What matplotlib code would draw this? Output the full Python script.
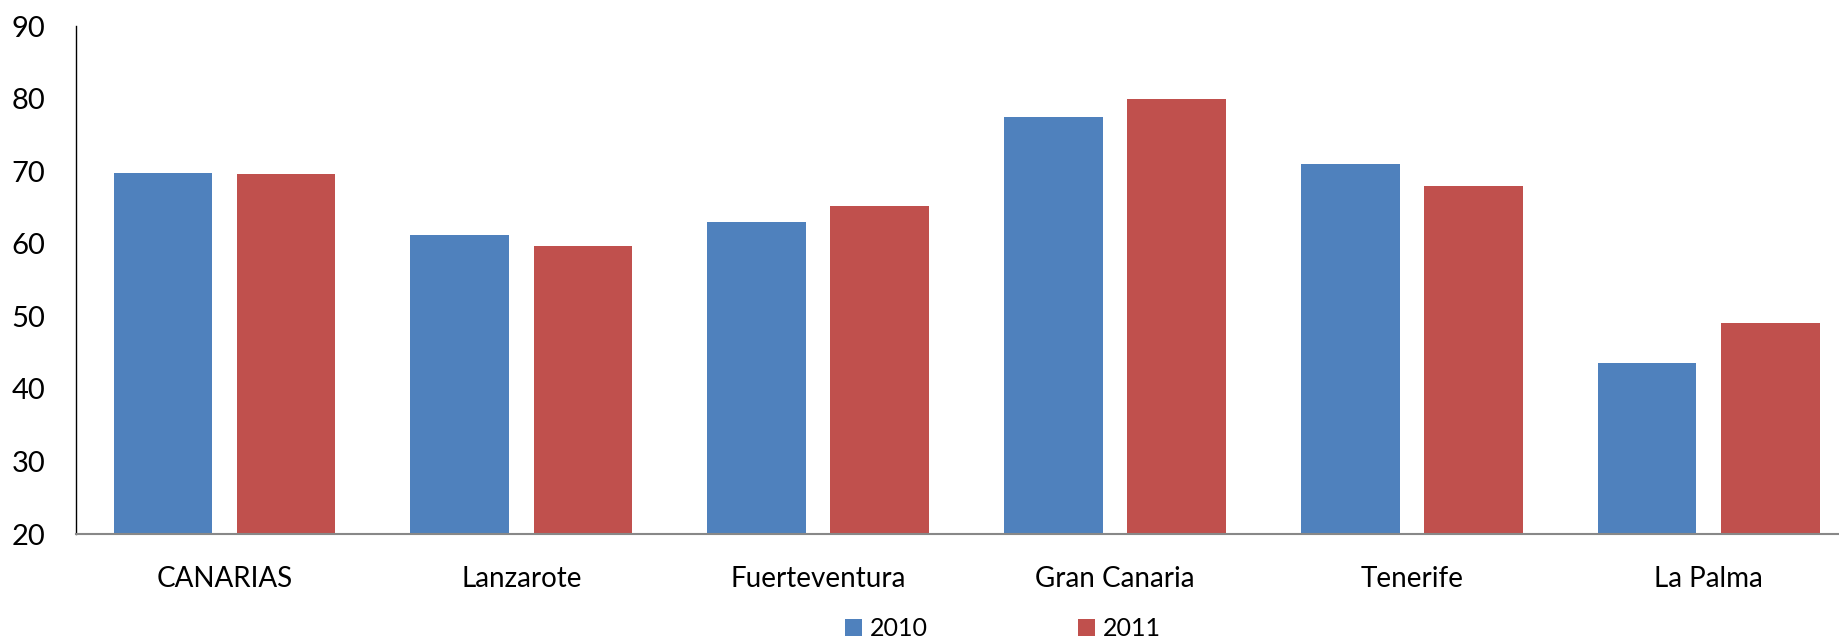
import matplotlib
matplotlib.use("Agg")
import matplotlib.pyplot as plt
import numpy as np
from matplotlib.patches import Patch

categories = ["CANARIAS", "Lanzarote", "Fuerteventura", "Gran Canaria", "Tenerife", "La Palma"]
series_names = ["2010", "2011"]
values_2010 = [69.8, 61.2, 63.0, 77.5, 71.0, 43.6]
values_2011 = [69.6, 59.7, 65.2, 79.9, 68.0, 49.1]
yticks = [20, 30, 40, 50, 60, 70, 80, 90]

colors = ["#4F81BD", "#C0504D"]

plt.rcParams['font.family'] = ['Lato', 'DejaVu Sans']

fig = plt.figure(figsize=(18.4, 6.43), dpi=100)
ax = fig.add_axes([0.0413, 0.1695, 0.968, 0.790])

x = np.arange(len(categories))
w = 0.332
off = 0.2075
ax.bar(x - off, values_2010, width=w, color=colors[0], zorder=2)
ax.bar(x + off, values_2011, width=w, color=colors[1], zorder=2)

ax.set_xlim(-0.5, len(categories) - 0.5)
ax.set_ylim(20, 90)
ax.set_yticks(yticks)
ax.set_yticklabels([str(t) for t in yticks], fontsize=21)
ax.set_xticks(x)
ax.set_xticklabels(categories, fontsize=20)
ax.tick_params(axis='both', length=0)
ax.tick_params(axis='x', pad=23)
ax.tick_params(axis='y', pad=22)

for s in ['top', 'right']:
    ax.spines[s].set_visible(False)
ax.spines['left'].set_color('black')
ax.spines['left'].set_linewidth(1.0)
ax.spines['bottom'].set_color('#888888')
ax.spines['bottom'].set_linewidth(1.5)

handles = [Patch(facecolor=colors[0]), Patch(facecolor=colors[1])]
fig.legend(handles, series_names, loc='center', bbox_to_anchor=(0.545, 0.022),
           ncol=2, frameon=False, fontsize=18, handlelength=0.7, handleheight=0.7,
           handletextpad=0.3, columnspacing=6.0)

fig.savefig("out.png", dpi=100)
